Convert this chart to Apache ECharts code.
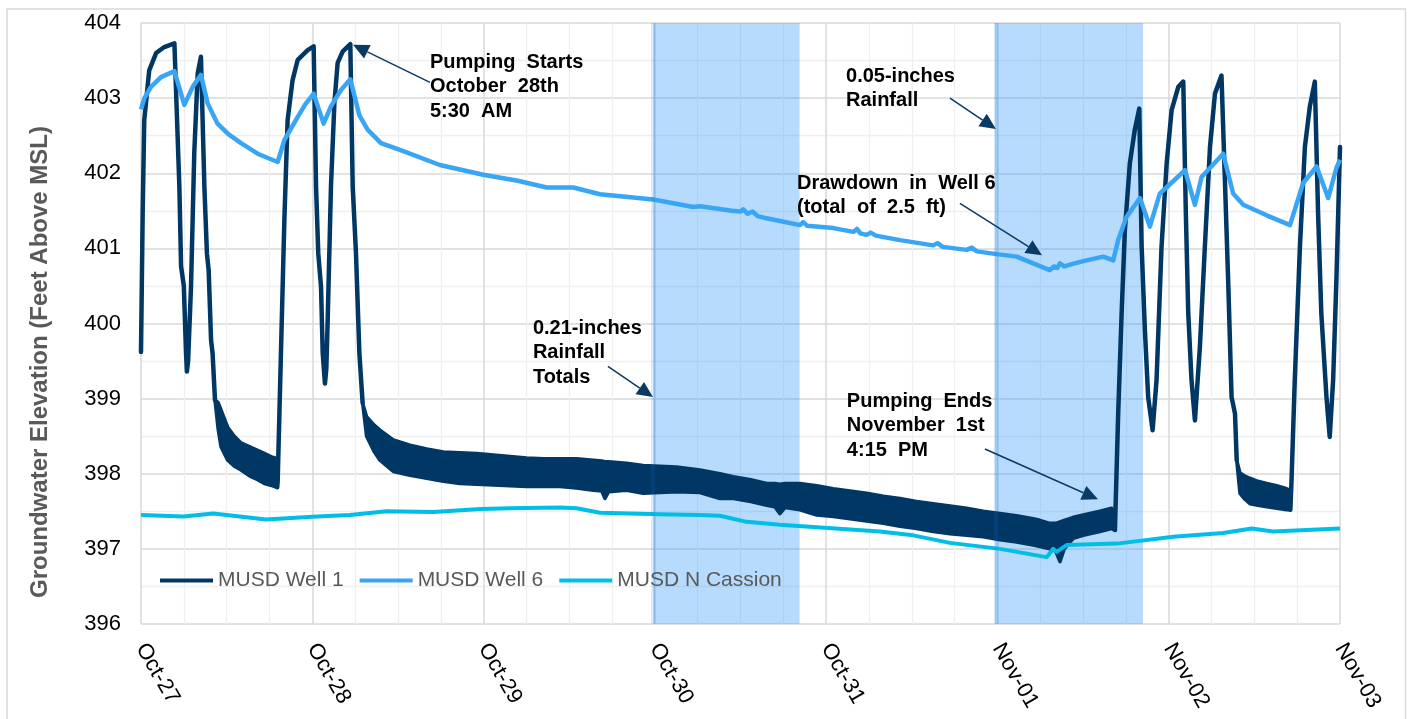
<!DOCTYPE html>
<html>
<head>
<meta charset="utf-8">
<script src="https://cdn.jsdelivr.net/npm/echarts@6/dist/echarts.min.js"></script>
<style>
html,body{margin:0;padding:0;background:#fff;}
#main{width:1412px;height:719px;}
</style>
</head>
<body>
<div id="main"></div>
<script>
// time unit: days since Oct-27 00:00
const xTickLabels = ['Oct-27','Oct-28','Oct-29','Oct-30','Oct-31','Nov-01','Nov-02','Nov-03'];
const seriesNames = ['MUSD Well 1','MUSD Well 6','MUSD N Cassion'];

// MUSD Well 1 (pumping spikes; null = oscillating band section drawn below)
const well1Time = [0,0.01,0.019,0.048,0.088,0.136,0.195,0.204,0.224,0.234,0.25,0.263,0.268,0.275,0.292,0.311,0.331,0.35,0.37,0.385,0.395,0.409,0.418,0.432,
  0.6,
  0.795,0.798,0.817,0.837,0.856,0.885,0.915,0.973,1.008,1.022,1.035,1.051,1.061,1.074,1.082,1.09,1.109,1.129,1.148,1.177,1.222,1.236,1.255,1.275,1.294,
  3.5,
  5.686,5.705,5.725,5.744,5.773,5.802,5.828,5.842,5.861,5.88,5.906,5.929,5.958,5.988,6.017,6.056,6.085,6.1,6.114,6.133,6.153,6.182,6.211,6.241,6.27,6.308,6.328,6.347,6.367,6.387,6.397,
  6.55,
  6.71,6.717,6.736,6.766,6.795,6.824,6.853,6.872,6.891,6.921,6.94,6.96,6.979,7.0];
const well1Value = [399.62,401.5,402.71,403.37,403.6,403.68,403.73,403.72,401.82,400.76,400.5,399.6,399.36,399.5,400.49,402.27,403.33,403.55,401.82,400.93,400.71,399.78,399.6,398.98,
  null,
  397.82,397.9,399.6,401.38,402.71,403.24,403.51,403.64,403.69,401.82,400.93,400.49,399.6,399.2,399.4,400.05,401.82,402.93,403.47,403.62,403.72,401.82,400.94,399.6,398.94,
  null,
  397.25,398.8,400.13,401.24,402.13,402.58,402.86,401.02,399.91,399.02,398.58,399.25,401.02,402.13,402.84,403.15,403.22,401.47,400.14,399.25,398.71,399.69,401.02,402.35,403.06,403.3,401.91,400.58,399.02,398.8,398.18,
  null,
  397.52,397.91,399.25,401.02,402.35,402.89,403.22,401.47,400.13,399.02,398.49,399.25,400.58,402.35];

// MUSD Well 1 oscillation envelopes (upper / lower)
const band1Time = [0.432,0.45,0.467,0.506,0.545,0.584,0.642,0.681,0.72,0.768,0.795];
const band1High = [398.98,398.95,398.85,398.62,398.5,398.41,398.35,398.31,398.27,398.22,398.2];
const band1Low  = [398.98,398.6,398.36,398.18,398.1,398.05,397.96,397.92,397.87,397.84,397.82];

const band2Time = [1.294,1.317,1.36,1.395,1.473,1.57,1.668,1.765,1.862,1.96,2.057,2.154,2.252,2.349,2.446,2.543,2.641,2.69,2.709,2.73,2.835,2.932,3.03,3.127,3.263,3.38,3.458,3.56,3.653,3.70,3.73,3.76,3.847,3.945,4.042,4.139,4.236,4.334,4.431,4.528,4.625,4.723,4.82,4.917,5.015,5.112,5.209,5.248,5.306,5.34,5.365,5.39,5.443,5.501,5.598,5.667,5.686];
const band2High = [398.94,398.76,398.65,398.58,398.45,398.38,398.33,398.29,398.28,398.27,398.25,398.23,398.21,398.2,398.2,398.2,398.18,398.17,398.16,398.16,398.14,398.11,398.1,398.09,398.05,398.0,397.96,397.92,397.87,397.87,397.86,397.87,397.87,397.84,397.8,397.77,397.74,397.7,397.67,397.63,397.6,397.57,397.54,397.5,397.47,397.44,397.4,397.38,397.34,397.34,397.36,397.38,397.42,397.45,397.5,397.54,397.45];
const band2Low  = [398.94,398.5,398.3,398.18,398.03,397.98,397.94,397.9,397.87,397.86,397.85,397.84,397.83,397.83,397.83,397.81,397.78,397.77,397.67,397.76,397.78,397.74,397.75,397.76,397.75,397.67,397.67,397.63,397.58,397.56,397.47,397.55,397.52,397.45,397.43,397.4,397.37,397.34,397.3,397.27,397.23,397.2,397.18,397.16,397.12,397.09,397.05,397.03,397.0,396.97,396.83,397.0,397.14,397.18,397.23,397.27,397.25];

const band3Time = [6.397,6.416,6.445,6.474,6.52,6.572,6.63,6.689,6.71];
const band3High = [398.18,398.01,397.97,397.94,397.9,397.87,397.84,397.8,397.78];
const band3Low  = [398.18,397.74,397.66,397.6,397.58,397.56,397.54,397.52,397.52];

// MUSD Well 6
const well6Time = [0,0.02,0.058,0.117,0.195,0.253,0.302,0.35,0.389,0.447,0.51,0.584,0.681,0.798,0.837,0.915,0.96,1.008,1.066,1.109,1.168,1.222,1.275,1.323,1.401,1.512,1.745,1.998,2.2,2.368,2.524,2.68,2.991,3.224,3.263,3.45,3.5,3.516,3.54,3.57,3.6,3.653,3.847,3.866,3.89,4.042,4.16,4.18,4.2,4.236,4.26,4.29,4.431,4.625,4.65,4.68,4.82,4.85,4.88,4.975,5.112,5.209,5.306,5.33,5.35,5.365,5.39,5.45,5.52,5.56,5.618,5.676,5.705,5.754,5.832,5.89,5.948,6.095,6.153,6.192,6.318,6.376,6.435,6.572,6.708,6.785,6.863,6.931,6.979,7.0];
const well6Value = [402.85,403.0,403.15,403.28,403.36,402.91,403.15,403.31,402.93,402.66,402.52,402.4,402.26,402.15,402.44,402.75,402.92,403.06,402.66,402.89,403.11,403.25,402.77,402.58,402.4,402.31,402.11,401.98,401.9,401.81,401.81,401.72,401.65,401.55,401.56,401.5,401.49,401.52,401.46,401.49,401.43,401.4,401.31,401.35,401.3,401.27,401.22,401.26,401.2,401.18,401.21,401.17,401.11,401.04,401.07,401.02,400.98,401.01,400.96,400.93,400.89,400.8,400.71,400.76,400.74,400.8,400.76,400.8,400.84,400.86,400.89,400.84,401.11,401.42,401.67,401.29,401.73,402.04,401.58,401.95,402.26,401.73,401.58,401.44,401.31,401.87,402.09,401.67,402.07,402.18];

// MUSD N Cassion
const cassionTime = [0,0.247,0.422,0.73,1.026,1.22,1.434,1.707,1.98,2.154,2.446,2.543,2.68,3.03,3.263,3.38,3.536,3.73,3.925,4.314,4.508,4.723,5.015,5.287,5.326,5.345,5.404,5.696,5.735,6.027,6.318,6.484,6.61,6.805,7.0];
const cassionValue = [397.45,397.43,397.47,397.39,397.43,397.45,397.5,397.49,397.53,397.54,397.55,397.54,397.48,397.46,397.45,397.44,397.36,397.32,397.29,397.23,397.18,397.08,397.0,396.89,397.0,396.96,397.05,397.07,397.08,397.16,397.21,397.27,397.23,397.25,397.27];

// rainfall periods [start, end] (days)
const rainStart = [2.99, 4.985];
const rainEnd   = [3.845, 5.85];

// annotations
const annotationTexts = [
  'Pumping  Starts\nOctober  28th\n5:30  AM',
  '0.05-inches\nRainfall',
  'Drawdown  in  Well 6\n(total  of  2.5  ft)',
  '0.21-inches\nRainfall\nTotals',
  'Pumping  Ends\nNovember  1st\n4:15  PM'
];
const annotationTextAt = [[1.687,403.64],[4.116,403.454],[3.83,402.03],[2.288,400.10],[4.121,399.13]];
const arrowFrom = [[1.687,403.21],[4.723,403.0],[4.781,401.60],[2.726,399.43],[4.927,398.33]];
const arrowTo   = [[1.2376,403.71],[4.991,402.59],[5.26,400.91],[2.989,399.02],[5.587,397.66]];

const NAVY = '#003764';
const BLUE = '#38a5f5';
const CYAN = '#00bee6';
const FONT = "'Liberation Sans', Arial, sans-serif";

const pairs = (xs, ys) => xs.map((x, i) => [x, ys[i]]);
const wellBands = [
  {time: band1Time, high: band1High, low: band1Low},
  {time: band2Time, high: band2High, low: band2Low},
  {time: band3Time, high: band3High, low: band3Low}
];

const chart = echarts.init(document.getElementById('main'));
const option = {
  animation: false,
  backgroundColor: '#fff',
  grid: {left: 141, right: 72, top: 23, bottom: 95, containLabel: false},
  legend: {
    data: seriesNames,
    icon: 'rect',
    left: 155, top: 565,
    itemWidth: 53, itemHeight: 4, itemGap: 16,
    textStyle: {fontFamily: FONT, fontSize: 21, color: '#595959'}
  },
  xAxis: {
    type: 'value', min: 0, max: 7, interval: 1,
    axisLine: {show: false}, axisTick: {show: false},
    axisLabel: {
      rotate: -60, margin: 21, fontFamily: FONT, fontSize: 22, color: '#000',
      formatter: v => xTickLabels[Math.round(v)]
    },
    splitLine: {show: true, lineStyle: {color: '#d9d9d9', width: 1.5}},
    minorTick: {show: false, splitNumber: 4},
    minorSplitLine: {show: true, lineStyle: {color: '#efefef', width: 1.3}}
  },
  yAxis: {
    type: 'value', min: 396, max: 404, interval: 1,
    axisLine: {show: false}, axisTick: {show: false},
    axisLabel: {margin: 20, fontFamily: FONT, fontSize: 22, color: '#000'},
    splitLine: {show: true, lineStyle: {color: '#d9d9d9', width: 1.5}},
    minorTick: {show: false, splitNumber: 2},
    minorSplitLine: {show: true, lineStyle: {color: '#efefef', width: 1.3}}
  },
  series: [
    {
      name: seriesNames[0], type: 'line', symbol: 'none', connectNulls: false,
      data: pairs(well1Time, well1Value),
      lineStyle: {color: NAVY, width: 4.5, join: 'round', cap: 'round'},
      itemStyle: {color: NAVY},
      markArea: {
        silent: true,
        itemStyle: {color: 'rgba(40,150,245,0.34)'},
        data: rainStart.map((s, i) => [{xAxis: s}, {xAxis: rainEnd[i]}])
      },
      markLine: {
        silent: true, symbol: 'none', label: {show: false},
        lineStyle: {color: 'rgba(30,120,220,0.15)', width: 4, type: 'solid'},
        data: rainStart.map(s => ({xAxis: s}))
      }
    },
    {
      name: 'MUSD Well 1 band', type: 'custom', silent: true, z: 3,
      data: wellBands.map((b, i) => [b.time[0], b.low[0], i]),
      encode: {x: 0, y: 1},
      renderItem: (params, api) => {
        const b = wellBands[params.dataIndex];
        const pts = [];
        b.time.forEach((t, k) => pts.push(api.coord([t, b.high[k]])));
        for (let k = b.time.length - 1; k >= 0; k--) pts.push(api.coord([b.time[k], b.low[k]]));
        return {type: 'polygon', shape: {points: pts},
          style: {fill: NAVY, stroke: NAVY, lineWidth: 3.5, lineJoin: 'round'}};
      }
    },
    {
      name: seriesNames[1], type: 'line', symbol: 'none',
      data: pairs(well6Time, well6Value),
      lineStyle: {color: BLUE, width: 4.5, join: 'round'},
      itemStyle: {color: BLUE}
    },
    {
      name: seriesNames[2], type: 'line', symbol: 'none',
      data: pairs(cassionTime, cassionValue),
      lineStyle: {color: CYAN, width: 4, join: 'round'},
      itemStyle: {color: CYAN}
    }
  ]
};
chart.setOption(option);

// annotations and frame
const g = [];
g.push({type: 'rect', shape: {x: 7, y: 9, width: 1398.5, height: 730},
  style: {fill: 'none', stroke: '#d9d9d9', lineWidth: 1.5}, silent: true, z: 0});
g.push({type: 'text', x: 40, y: 362, rotation: Math.PI / 2,
  style: {text: 'Groundwater Elevation (Feet Above MSL)', fontFamily: FONT, fontSize: 24,
    fontWeight: 'bold', fill: '#595959', align: 'center', verticalAlign: 'middle'}, z: 10});
annotationTexts.forEach((txt, i) => {
  const p = chart.convertToPixel({gridIndex: 0}, annotationTextAt[i]);
  g.push({type: 'text', x: p[0], y: p[1],
    style: {text: txt, fontFamily: FONT, fontSize: 20, fontWeight: 'bold', fill: '#000',
      lineHeight: 24.5, align: 'left', verticalAlign: 'top'}, z: 10});
});
arrowFrom.forEach((from, i) => {
  const p0 = chart.convertToPixel({gridIndex: 0}, from);
  const p1 = chart.convertToPixel({gridIndex: 0}, arrowTo[i]);
  const dx = p1[0] - p0[0], dy = p1[1] - p0[1], len = Math.hypot(dx, dy);
  const ux = dx / len, uy = dy / len, hl = 16, hw = 7.5;
  const bx = p1[0] - ux * hl, by = p1[1] - uy * hl;
  g.push({type: 'line', shape: {x1: p0[0], y1: p0[1], x2: bx, y2: by},
    style: {stroke: '#0a3a63', lineWidth: 1.5}, z: 10});
  g.push({type: 'polygon', shape: {points: [p1, [bx - uy * hw, by + ux * hw], [bx + uy * hw, by - ux * hw]]},
    style: {fill: '#0a3a63'}, z: 10});
});
chart.setOption({graphic: g});
</script>
</body>
</html>
